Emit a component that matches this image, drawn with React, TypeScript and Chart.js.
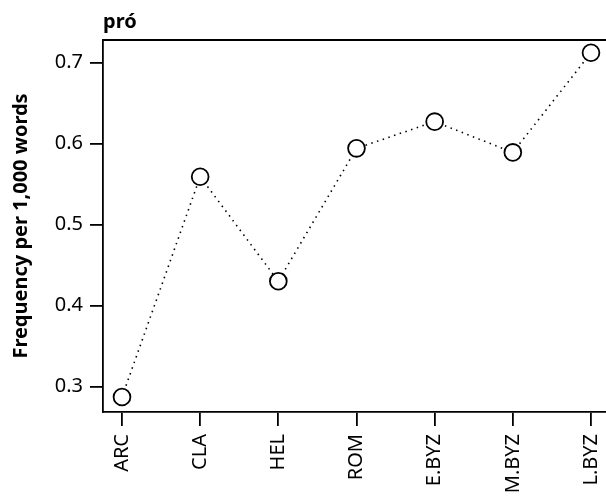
import React, { useEffect, useRef } from "react";
import { Chart, registerables } from "chart.js";

Chart.register(...registerables);

const categories = ["ARC", "CLA", "HEL", "ROM", "E.BYZ", "M.BYZ", "L.BYZ"];
const frequency = [0.287, 0.559, 0.43, 0.594, 0.627, 0.589, 0.712];
const yTicks = [0.3, 0.4, 0.5, 0.6, 0.7];
const chartTitle = "pró";
const yTitle = "Frequency per 1,000 words";

const FONT = "'Noto Sans', 'Open Sans', sans-serif";

export default function App() {
  const ref = useRef<HTMLCanvasElement | null>(null);
  useEffect(() => {
    if (!ref.current) return;
    const framePlugin = {
      id: "frame",
      afterDraw(chart: any) {
        const { ctx, chartArea } = chart;
        ctx.save();
        ctx.strokeStyle = "#000";
        ctx.lineWidth = 1.8;
        ctx.beginPath();
        ctx.moveTo(chartArea.left - 0.9, chartArea.top);
        ctx.lineTo(chartArea.right + 10, chartArea.top);
        ctx.stroke();
        ctx.fillStyle = "#000";
        ctx.font = `bold 20px ${FONT}`;
        ctx.textAlign = "left";
        ctx.textBaseline = "alphabetic";
        ctx.fillText(chartTitle, chartArea.left, 28);
        ctx.restore();
      },
    };
    const chart = new Chart(ref.current, {
      type: "line",
      data: {
        datasets: [
          {
            data: frequency.map((v, i) => ({ x: i, y: v })),
            borderColor: "#000",
            borderWidth: 1.6,
            borderDash: [1.5, 4.5],
            pointRadius: 8.4,
            pointBorderWidth: 1.8,
            pointBorderColor: "#000",
            pointBackgroundColor: "#fff",
            fill: false,
            tension: 0,
            clip: false as any,
          },
        ],
      },
      options: {
        animation: false,
        responsive: false,
        layout: {
          autoPadding: false,
          padding: { top: 40, right: 0, left: 0, bottom: 0 },
        },
        plugins: {
          legend: { display: false },
          tooltip: { enabled: false },
          title: { display: false },
        },
        scales: {
          x: {
            type: "linear",
            min: -0.243,
            max: 6.192,
            afterBuildTicks: (axis: any) => {
              axis.ticks = categories.map((_, i) => ({ value: i }));
            },
            afterFit: (scale: any) => {
              scale.height = 88;
              scale.paddingLeft = 0;
              scale.paddingRight = 0;
            },
            grid: {
              drawOnChartArea: false,
              drawTicks: true,
              tickLength: 14,
              color: "#000",
              lineWidth: 1.8,
            },
            border: { display: true, color: "#000", width: 1.8 },
            ticks: {
              autoSkip: false,
              minRotation: 90,
              maxRotation: 90,
              padding: 8,
              color: "#000",
              font: { family: FONT, size: 20 },
              callback: (v: any) => categories[Math.round(Number(v))] ?? "",
            },
          },
          y: {
            type: "linear",
            min: 0.2685,
            max: 0.7278,
            afterBuildTicks: (axis: any) => {
              axis.ticks = yTicks.map((v) => ({ value: v }));
            },
            afterFit: (scale: any) => {
              scale.width = 103;
              scale.paddingTop = 0;
              scale.paddingBottom = 0;
            },
            grid: {
              drawOnChartArea: false,
              drawTicks: true,
              tickLength: 13,
              color: "#000",
              lineWidth: 1.8,
            },
            border: { display: true, color: "#000", width: 1.8 },
            ticks: {
              padding: 7,
              color: "#000",
              font: { family: FONT, size: 20 },
              callback: (v: any) => Number(v).toFixed(1),
            },
            title: {
              display: true,
              text: yTitle,
              color: "#000",
              font: { family: FONT, size: 20, weight: "bold" },
              padding: { top: 9, bottom: 0 },
            },
          },
        },
      },
      plugins: [framePlugin],
    });
    return () => chart.destroy();
  }, []);
  return (
    <div
      style={{
        position: "fixed",
        left: 0,
        top: 0,
        width: 606,
        height: 500,
        overflow: "hidden",
        background: "#fff",
      }}
    >
      <canvas
        ref={ref}
        width={606}
        height={500}
        style={{ display: "block", width: 606, height: 500 }}
      />
    </div>
  );
}
